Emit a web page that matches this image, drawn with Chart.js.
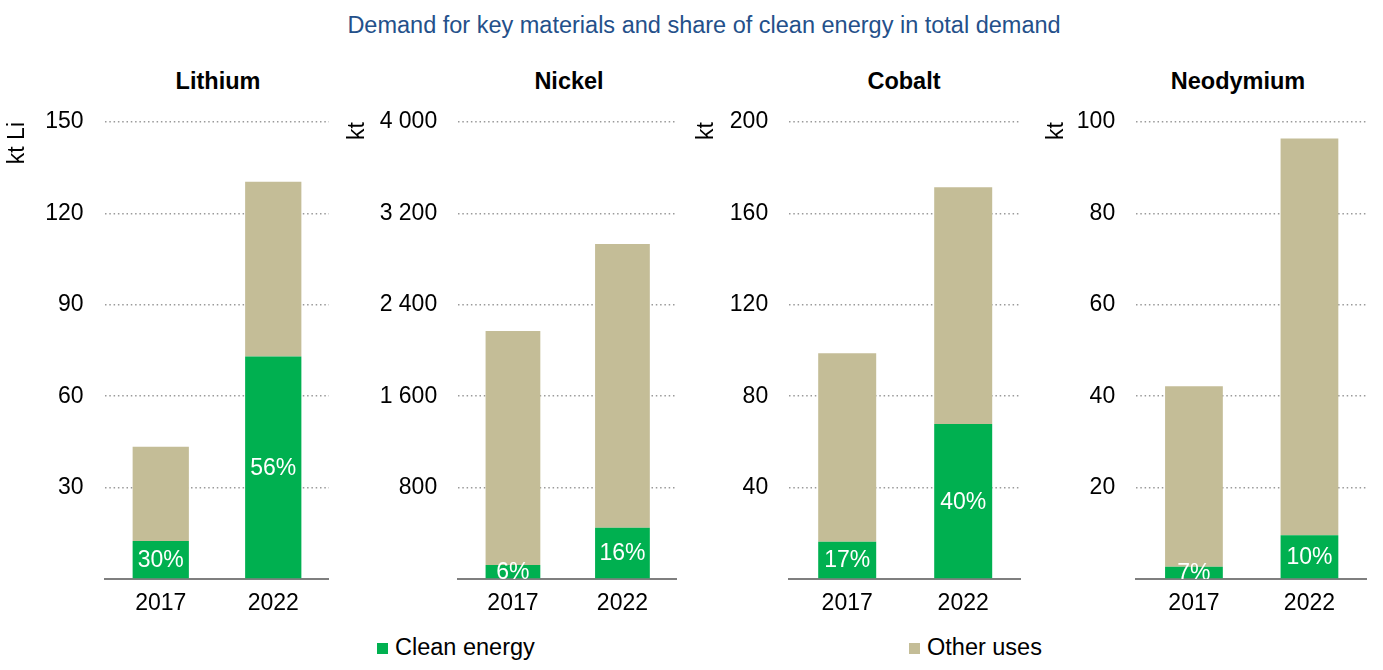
<!DOCTYPE html>
<html>
<head>
<meta charset="utf-8">
<script src="https://cdn.jsdelivr.net/npm/chart.js@4.4.1/dist/chart.umd.min.js"></script>
<style>
  html, body { margin: 0; padding: 0; background: #fff; }
  #page { position: relative; width: 1383px; height: 670px; overflow: hidden;
          font-family: "Liberation Sans", Arial, sans-serif; color: #000; }
  .box { position: absolute; }
  .txt { position: absolute; width: 800px; text-align: center; font-size: 23.5px;
         line-height: 26px; white-space: nowrap; }
  .main { color: #24508a; }
  .sub { font-weight: bold; }
  .leg { position: absolute; font-size: 23.5px; line-height: 26px; white-space: nowrap; }
  .leg i { display: inline-block; width: 11px; height: 11px; margin-right: 7px; vertical-align: 1px; }
</style>
</head>
<body>
<div id="page">
  <div class="txt main" style="left:304px; top:12px;">Demand for key materials and share of clean energy in total demand</div>
  <div class="leg" style="left:377px; top:634px;"><i style="background:#00b050"></i>Clean energy</div>
  <div class="leg" style="left:909px; top:634px;"><i style="background:#c4bd97"></i>Other uses</div>
</div>

<script>
// data
const years = ["2017", "2022"];
const materials = ["Lithium", "Nickel", "Cobalt", "Neodymium"];
const units = ["kt Li", "kt", "kt", "kt"];
const cleanEnergy = [[12.5, 73], [122, 449], [16.3, 67.8], [2.7, 9.6]];
const otherUses = [[30.9, 57.4], [2049, 2483], [82.5, 103.6], [39.5, 86.8]];
const cleanShare = [["30%", "56%"], ["6%", "16%"], ["17%", "40%"], ["7%", "10%"]];
const axisMax = [150, 4000, 200, 100];
const axisStep = [30, 800, 40, 20];

// where each panel sits on the page
const panels = [
  { left: 3.5,    yWidth: 100.5, width: 325.5, titleX: 218 },
  { left: 343.8,  yWidth: 114.2, width: 333.2, titleX: 569 },
  { left: 692.8,  yWidth: 96.2,  width: 328.2, titleX: 904 },
  { left: 1042.8, yWidth: 93.2,  width: 324.2, titleX: 1238 }
];
const panelTop = 100;
const panelHeight = 519;

const FONT = "'Liberation Sans', Arial, sans-serif";
Chart.defaults.font.family = FONT;
Chart.defaults.font.size = 23;
Chart.defaults.color = "#000";

const page = document.getElementById("page");

// white share labels centred in the green segment, clipped to the plot
const shareLabels = {
  id: "shareLabels",
  afterDatasetsDraw(chart, args, opts) {
    const { ctx, chartArea } = chart;
    const meta = chart.getDatasetMeta(0);
    ctx.save();
    ctx.beginPath();
    ctx.rect(chartArea.left, chartArea.top, chartArea.right - chartArea.left, chartArea.bottom - chartArea.top);
    ctx.clip();
    ctx.fillStyle = "#fff";
    ctx.font = "23px " + FONT;
    ctx.textAlign = "center";
    ctx.textBaseline = "middle";
    meta.data.forEach((bar, i) => {
      ctx.fillText(opts.labels[i], bar.x, (bar.y + bar.base) / 2 + 1);
    });
    ctx.restore();
  }
};

function spaced(v) {
  return String(v).replace(/\B(?=(\d{3})+(?!\d))/g, " ");
}

materials.forEach((name, m) => {
  const p = panels[m];

  const head = document.createElement("div");
  head.className = "txt sub";
  head.style.left = (p.titleX - 400) + "px";
  head.style.top = "68px";
  head.textContent = name;
  page.appendChild(head);

  const box = document.createElement("div");
  box.className = "box";
  box.style.left = p.left + "px";
  box.style.top = panelTop + "px";
  box.style.width = p.width + "px";
  box.style.height = panelHeight + "px";
  const canvas = document.createElement("canvas");
  box.appendChild(canvas);
  page.appendChild(box);

  new Chart(canvas, {
    type: "bar",
    data: {
      labels: years,
      datasets: [
        { label: "Clean energy", data: cleanEnergy[m], backgroundColor: "#00b050" },
        { label: "Other uses", data: otherUses[m], backgroundColor: "#c4bd97" }
      ]
    },
    plugins: [shareLabels],
    options: {
      responsive: true,
      maintainAspectRatio: false,
      animation: false,
      events: [],
      layout: { padding: { top: 22, right: 0, bottom: 0, left: 0 } },
      datasets: { bar: { categoryPercentage: 1, barPercentage: 0.5 } },
      plugins: {
        legend: { display: false },
        title: { display: false },
        tooltip: { enabled: false },
        shareLabels: { labels: cleanShare[m] }
      },
      scales: {
        x: {
          stacked: true,
          grid: { display: false },
          border: { display: true, color: "#7f7f7f", width: 2 },
          ticks: { padding: 3, color: "#000" },
          afterFit(scale) { scale.height = 40; }
        },
        y: {
          stacked: true,
          min: 0,
          max: axisMax[m],
          border: { display: false, dash: [1.5, 2.8] },
          grid: {
            drawTicks: false,
            lineWidth: 1.5,
            color: c => (c.tick && c.tick.value === 0 ? "rgba(0,0,0,0)" : "#9a9a9a")
          },
          ticks: {
            stepSize: axisStep[m],
            padding: 21,
            color: "#000",
            callback: v => (v === 0 ? "" : spaced(v))
          },
          title: {
            display: true,
            text: units[m],
            align: "end",
            padding: 0,
            color: "#000",
            font: { size: 23 }
          },
          afterFit(scale) {
            scale.width = p.yWidth;
            scale.paddingTop = 0;
            scale.paddingBottom = 0;
          }
        }
      }
    }
  });
});
</script>
</body>
</html>
